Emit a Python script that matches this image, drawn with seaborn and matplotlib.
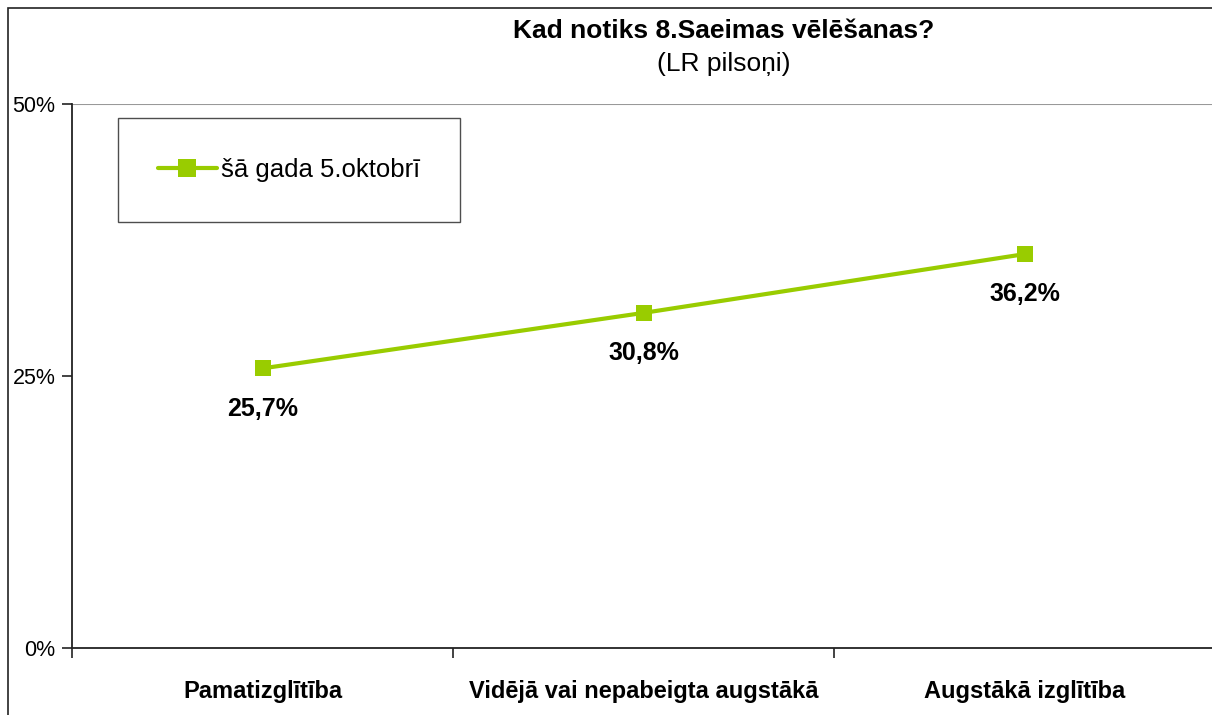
import matplotlib
matplotlib.use('Agg')
import matplotlib.pyplot as plt
import seaborn as sns
import pandas as pd
from matplotlib.patches import Rectangle
from matplotlib.ticker import FixedLocator

# dati
categories = ['Pamatizglītība', 'Vidējā vai nepabeigta augstākā', 'Augstākā izglītība']
values = [25.7, 30.8, 36.2]
value_labels = ['25,7%', '30,8%', '36,2%']
series_name = 'šā gada 5.oktobrī'
y_ticks = [0, 25, 50]
y_tick_labels = ['0%', '25%', '50%']

sns.set_style('white')
plt.rcParams['font.family'] = ['Liberation Sans', 'DejaVu Sans']
plt.rcParams['text.color'] = 'black'
plt.rcParams['xtick.color'] = 'black'
plt.rcParams['ytick.color'] = 'black'

df = pd.DataFrame({'kat': categories, 'val': values, 'ser': series_name})

W, H = 1212, 715
fig = plt.figure(figsize=(W / 100, H / 100), dpi=100)
ax = fig.add_axes([72 / W, 1 - 648 / H, (1215 - 72) / W, (648 - 104) / H])

green = '#99CC00'
sns.lineplot(data=df, x='kat', y='val', hue='ser', palette=[green], marker='s',
             markersize=11, markeredgewidth=0, linewidth=3, ax=ax, sort=False)

ax.set_xlim(-0.5, 2.5)
ax.set_ylim(0, 50)
ax.set_xlabel('')
ax.set_ylabel('')

# ass
for s in ['top', 'right']:
    ax.spines[s].set_visible(False)
for s in ['left', 'bottom']:
    ax.spines[s].set_color('#222222')
    ax.spines[s].set_linewidth(1.3)
ax.axhline(50, color='#999999', lw=1.5, zorder=0)

ax.set_yticks(y_ticks)
ax.set_yticklabels(y_tick_labels, fontsize=15.5)
ax.tick_params(axis='y', direction='out', length=7, width=1.2, color='#222222', left=True, pad=5)

ax.set_xticks(range(len(categories)))
ax.set_xticklabels(categories, fontsize=17, fontweight='bold')
ax.tick_params(axis='x', which='major', length=0, pad=23)
ax.xaxis.set_minor_locator(FixedLocator([-0.5, 0.5, 1.5, 2.5]))
ax.tick_params(axis='x', which='minor', direction='out', length=7, width=1.2,
               color='#222222', bottom=True)

for i, (v, lab) in enumerate(zip(values, value_labels)):
    ax.annotate(lab, (i, v), xytext=(0, -29), textcoords='offset points',
                ha='center', va='center', fontsize=18, fontweight='bold')

# leģenda
leg = ax.legend(loc='upper left', bbox_to_anchor=((118 - 72) / (1215 - 72), 1 - (118 - 104) / (648 - 104)),
                fontsize=18.5, frameon=True, fancybox=False, borderpad=1.55,
                handlelength=2.3, handletextpad=0.15, borderaxespad=0, markerscale=1.15)
leg.get_frame().set_edgecolor('#222222')
leg.get_frame().set_linewidth(1.0)
leg.get_frame().set_boxstyle('square', pad=0)

# virsraksts
fig.text(724 / W, 1 - 31 / H, 'Kad notiks 8.Saeimas vēlēšanas?', ha='center', va='center',
         fontsize=19, fontweight='bold')
fig.text(724 / W, 1 - 64 / H, '(LR pilsoņi)', ha='center', va='center', fontsize=19)

# rāmis
fig.patches.append(Rectangle((8 / W, -0.1), 1.2, 1 - 8 / H + 0.1, transform=fig.transFigure,
                             fill=False, edgecolor='#222222', lw=1.2))

fig.savefig('out.png', dpi=100)
